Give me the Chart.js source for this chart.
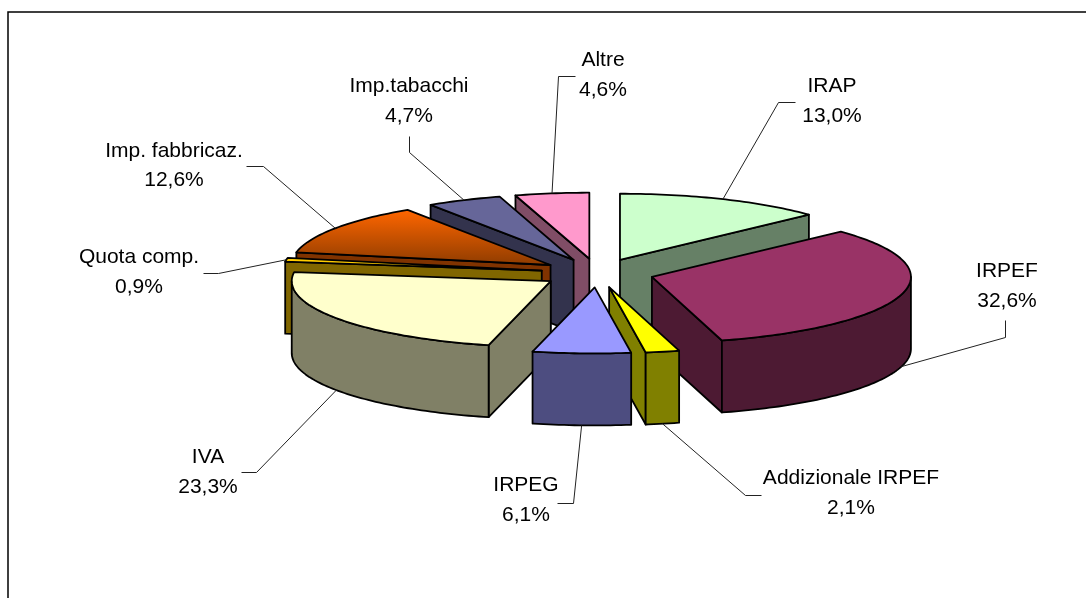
<!DOCTYPE html>
<html>
<head>
<meta charset="utf-8">
<style>
  html, body { margin: 0; padding: 0; background: #fff; }
  canvas { display: block; }
</style>
<script src="https://cdn.jsdelivr.net/npm/chart.js@4"></script>
</head>
<body>
<canvas id="myChart" width="1086" height="598"></canvas>
<script>
const categories = ['IRAP', 'IRPEF', 'Addizionale IRPEF', 'IRPEG', 'IVA', 'Quota comp.', 'Imp. fabbricaz.', 'Imp.tabacchi', 'Altre'];
const shares = [13.0, 32.6, 2.1, 6.1, 23.3, 0.9, 12.6, 4.7, 4.6];

const topColors = ['#ccffcc', '#993366', '#ffff00', '#9999ff', '#ffffcc', '#ffcc00', null, '#666699', '#ff99cc'];
const wallColors = ['#668066', '#4d1a33', '#808000', '#4d4d80', '#808066', '#806600', '#803300', '#33334d', '#804d66'];

// label centre x, baselines of the two lines
const labelSpots = [
  [832, 92, 122], [1007, 277, 307], [851, 484, 514], [526, 491, 521], [208, 463, 493],
  [139, 263, 293], [174, 157, 186], [409, 92, 122], [603, 66, 96]
];
// leader line after the point on the slice
const leaderBends = [
  [[778, 102], [795, 102]], [[1005, 337], [1005, 320]], [[745, 495], [761, 495]],
  [[573, 503], [557, 503]], [[256, 472], [241, 472]], [[218, 273], [203, 273]],
  [[263, 166], [246, 166]], [[409, 152], [409, 136]], [[558, 76], [575, 76]]
];

const radius = 259;
const explode = 56.5;
const squash = 0.255;
const depth = 72;

function topFill(c) {
  if (topColors[c.dataIndex]) return topColors[c.dataIndex];
  const area = c.chart.chartArea;
  if (!area) return '#cc5200';
  // imp. fabbricaz. slice fades downwards
  const y0 = (area.top + area.bottom) / 2;
  const g = c.chart.ctx.createLinearGradient(0, y0 - 216, 0, y0);
  g.addColorStop(0, '#ff6600');
  g.addColorStop(1, '#8f3c00');
  return g;
}

function midAngle(arc) {
  return (arc.startAngle + arc.endAngle) / 2;
}

// arc angle and distance -> screen point of the top face
function project(arc, a, r) {
  const m = midAngle(arc);
  return [
    arc.x + explode * Math.cos(m) + r * Math.cos(a),
    arc.y + squash * (explode * Math.sin(m) + r * Math.sin(a))
  ];
}

function fillFace(ctx, pts, color) {
  ctx.beginPath();
  pts.forEach((p, i) => (i ? ctx.lineTo(p[0], p[1]) : ctx.moveTo(p[0], p[1])));
  ctx.closePath();
  ctx.fillStyle = color;
  ctx.fill();
  ctx.stroke();
}

function radialFace(ctx, arc, a, color) {
  const inner = project(arc, a, 0);
  const outer = project(arc, a, arc.outerRadius);
  fillFace(ctx, [inner, outer, [outer[0], outer[1] + depth], [inner[0], inner[1] + depth]], color);
}

function drawSlice(ctx, arc, i) {
  const s = arc.startAngle, e = arc.endAngle, r = arc.outerRadius;
  const color = wallColors[i];
  ctx.strokeStyle = '#000';
  ctx.lineWidth = 1.8;
  ctx.lineJoin = 'round';

  if (Math.cos(s) < 0) radialFace(ctx, arc, s, color);
  if (Math.cos(e) > 0) radialFace(ctx, arc, e, color);

  const from = Math.max(s, 0), to = Math.min(e, Math.PI);
  if (to > from) {
    const rim = [];
    for (let a = from; a < to; a += 0.02) rim.push(project(arc, a, r));
    rim.push(project(arc, to, r));
    const low = rim.slice().reverse().map(p => [p[0], p[1] + depth]);
    fillFace(ctx, rim.concat(low), color);
  }

  // top face comes from the library's own arc element
  const m = midAngle(arc);
  ctx.save();
  ctx.translate(arc.x + explode * Math.cos(m), arc.y + squash * explode * Math.sin(m));
  ctx.scale(1, squash);
  ctx.translate(-arc.x, -arc.y);
  arc.draw(ctx);
  ctx.restore();

  const edge = [project(arc, s, 0)];
  for (let a = s; a < e; a += 0.02) edge.push(project(arc, a, r));
  edge.push(project(arc, e, r));
  ctx.beginPath();
  edge.forEach((p, k) => (k ? ctx.lineTo(p[0], p[1]) : ctx.moveTo(p[0], p[1])));
  ctx.closePath();
  ctx.stroke();
}

const pie3d = {
  id: 'pie3d',
  beforeDatasetDraw(chart, args) {
    const ctx = chart.ctx;
    const arcs = args.meta.data;
    const order = arcs.map((arc, i) => i).sort((a, b) => Math.sin(midAngle(arcs[a])) - Math.sin(midAngle(arcs[b])));
    ctx.save();
    order.forEach(i => drawSlice(ctx, arcs[i], i));
    ctx.restore();
    return false;
  },
  afterDraw(chart) {
    const ctx = chart.ctx;
    const arcs = chart.getDatasetMeta(0).data;
    ctx.save();

    // chart frame: only top and left sides are in the picture
    ctx.strokeStyle = '#000';
    ctx.lineWidth = 1.5;
    ctx.beginPath();
    ctx.moveTo(8, 598);
    ctx.lineTo(8, 12);
    ctx.lineTo(1086, 12);
    ctx.stroke();

    ctx.strokeStyle = '#222';
    ctx.lineWidth = 1;
    ctx.fillStyle = '#000';
    ctx.font = '21px "Liberation Sans"';
    ctx.textAlign = 'center';
    arcs.forEach((arc, i) => {
      const m = midAngle(arc);
      const p = project(arc, m, arc.outerRadius);
      if (Math.sin(m) > 0) p[1] += depth;
      ctx.beginPath();
      ctx.moveTo(p[0], p[1]);
      leaderBends[i].forEach(b => ctx.lineTo(b[0] + 0.5, b[1] + 0.5));
      ctx.stroke();
      const spot = labelSpots[i];
      ctx.fillText(categories[i], spot[0], spot[1]);
      ctx.fillText(shares[i].toFixed(1).replace('.', ',') + '%', spot[0], spot[2]);
    });
    ctx.restore();
  }
};

const ctx = document.querySelector('#myChart');
const myChart = new Chart(ctx, {
  type: 'pie',
  data: {
    labels: categories,
    datasets: [{
      data: shares,
      backgroundColor: topFill,
      borderWidth: 0
    }]
  },
  options: {
    responsive: false,
    animation: false,
    radius: radius,
    layout: { padding: { left: 109, bottom: 52 } },
    plugins: { legend: { display: false }, tooltip: { enabled: false } }
  },
  plugins: [pie3d]
});
</script>
</body>
</html>
